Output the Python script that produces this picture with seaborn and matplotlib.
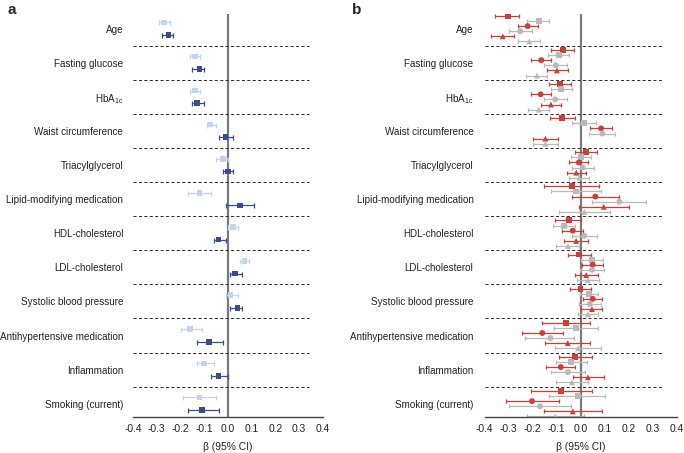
import numpy as np
import pandas as pd
import matplotlib
matplotlib.use("Agg")
import matplotlib.pyplot as plt
import seaborn as sns

# Data
traits = ["Age", "Fasting glucose", "$\\mathregular{HbA_{1c}}$", "Waist circumference",
          "Triacylglycerol", "Lipid-modifying medication", "HDL-cholesterol",
          "LDL-cholesterol", "Systolic blood pressure", "Antihypertensive medication",
          "Inflammation", "Smoking (current)"]

# panel a: light and dark series (estimate, lower, upper)
a_light_est = [-0.27, -0.14, -0.14, -0.075, -0.02, -0.12, 0.02, 0.07, 0.01, -0.16, -0.10, -0.12]
a_light_lo = [-0.29, -0.16, -0.16, -0.09, -0.05, -0.17, 0.00, 0.05, -0.01, -0.20, -0.13, -0.19]
a_light_hi = [-0.245, -0.12, -0.12, -0.05, 0.00, -0.07, 0.04, 0.09, 0.04, -0.11, -0.06, -0.05]
a_dark_est = [-0.25, -0.12, -0.13, -0.01, 0.00, 0.05, -0.04, 0.03, 0.04, -0.08, -0.04, -0.11]
a_dark_lo = [-0.28, -0.15, -0.15, -0.04, -0.02, -0.01, -0.06, 0.01, 0.01, -0.13, -0.07, -0.17]
a_dark_hi = [-0.23, -0.10, -0.10, 0.02, 0.02, 0.11, -0.01, 0.06, 0.06, -0.02, 0.00, -0.04]

# panel b: six series per trait
b_red_sq_est = [-0.304, -0.075, -0.088, -0.078, 0.022, -0.036, -0.050, -0.006, -0.001, -0.061, -0.025, -0.081]
b_red_sq_lo = [-0.356, -0.122, -0.133, -0.129, -0.022, -0.152, -0.106, -0.054, -0.044, -0.161, -0.092, -0.206]
b_red_sq_hi = [-0.256, -0.026, -0.040, -0.022, 0.068, 0.078, 0.001, 0.044, 0.042, 0.040, 0.046, 0.046]
b_grey_sq_est = [-0.175, -0.092, -0.081, 0.012, 0.003, -0.018, -0.068, 0.047, 0.035, -0.018, -0.039, -0.011]
b_grey_sq_lo = [-0.222, -0.136, -0.124, -0.036, -0.039, -0.122, -0.117, 0.000, -0.004, -0.111, -0.103, -0.131]
b_grey_sq_hi = [-0.131, -0.047, -0.036, 0.064, 0.044, 0.086, -0.022, 0.093, 0.072, 0.072, 0.028, 0.103]
b_red_ci_est = [-0.221, -0.164, -0.167, 0.085, -0.008, 0.061, -0.033, 0.050, 0.050, -0.160, -0.083, -0.203]
b_red_ci_lo = [-0.263, -0.206, -0.207, 0.039, -0.049, -0.036, -0.078, 0.006, 0.008, -0.246, -0.144, -0.313]
b_red_ci_hi = [-0.179, -0.124, -0.125, 0.130, 0.029, 0.158, 0.010, 0.094, 0.088, -0.072, -0.025, -0.092]
b_grey_ci_est = [-0.252, -0.104, -0.106, 0.090, 0.008, 0.161, 0.015, 0.047, 0.038, -0.126, -0.053, -0.170]
b_grey_ci_lo = [-0.300, -0.152, -0.153, 0.036, -0.035, 0.049, -0.036, -0.003, -0.006, -0.231, -0.122, -0.300]
b_grey_ci_hi = [-0.203, -0.056, -0.058, 0.144, 0.055, 0.273, 0.069, 0.098, 0.083, -0.026, 0.018, -0.039]
b_red_tr_est = [-0.325, -0.099, -0.124, -0.147, -0.018, 0.096, -0.019, 0.023, 0.047, -0.054, 0.030, -0.033]
b_red_tr_lo = [-0.372, -0.142, -0.165, -0.197, -0.058, -0.008, -0.069, -0.022, 0.003, -0.147, -0.032, -0.152]
b_red_tr_hi = [-0.279, -0.054, -0.081, -0.096, 0.024, 0.203, 0.030, 0.071, 0.090, 0.040, 0.098, 0.088]
b_grey_tr_est = [-0.214, -0.182, -0.175, -0.147, -0.006, 0.015, -0.053, 0.030, 0.030, -0.011, -0.036, -0.106]
b_grey_tr_lo = [-0.261, -0.227, -0.220, -0.197, -0.049, -0.092, -0.104, -0.015, -0.011, -0.106, -0.103, -0.222]
b_grey_tr_hi = [-0.168, -0.140, -0.131, -0.096, 0.036, 0.121, -0.006, 0.078, 0.072, 0.083, 0.029, 0.012]

xticks = [-0.4, -0.3, -0.2, -0.1, 0.0, 0.1, 0.2, 0.3, 0.4]

LIGHT = "#c6d4ea"
DARK = "#3d4c85"
RED = "#cc3d3d"
GREY = "#b9b9b9"
FS = 7.1

sns.set_style("white")
plt.rcParams["font.family"] = ["Liberation Sans", "DejaVu Sans"]
plt.rcParams["mathtext.fontset"] = "custom"
plt.rcParams["mathtext.rm"] = "Liberation Sans"

# Build long tables
n = len(traits)
pos = np.arange(n)
rows = []
for name, est, lo, hi, off in [("light", a_light_est, a_light_lo, a_light_hi, -0.185),
                               ("dark", a_dark_est, a_dark_lo, a_dark_hi, 0.185)]:
    for i in range(n):
        rows.append(dict(series=name, y=pos[i] + off, est=est[i], lo=lo[i], hi=hi[i]))
df_a = pd.DataFrame(rows)

rows = []
b_series = [("red", "sq", b_red_sq_est, b_red_sq_lo, b_red_sq_hi),
            ("grey", "sq", b_grey_sq_est, b_grey_sq_lo, b_grey_sq_hi),
            ("red", "ci", b_red_ci_est, b_red_ci_lo, b_red_ci_hi),
            ("grey", "ci", b_grey_ci_est, b_grey_ci_lo, b_grey_ci_hi),
            ("red", "tr", b_red_tr_est, b_red_tr_lo, b_red_tr_hi),
            ("grey", "tr", b_grey_tr_est, b_grey_tr_lo, b_grey_tr_hi)]
for k, (col, shp, est, lo, hi) in enumerate(b_series):
    off = (k - 2.5) * 0.15
    for i in range(n):
        rows.append(dict(cohort=col, model=shp, y=pos[i] + off, est=est[i], lo=lo[i], hi=hi[i]))
df_b = pd.DataFrame(rows)

fig = plt.figure(figsize=(6.84, 4.53), dpi=100)
ax_a = fig.add_axes([133 / 684, 36 / 453, 190 / 684, 403 / 453])
ax_b = fig.add_axes([484.7 / 684, 36 / 453, 192 / 684, 403 / 453])


def style_axis(ax, pad):
    ax.set_xlim(-0.4, 0.4)
    ax.set_ylim(11.39, -0.43)
    ax.axvline(0, color="#7a7a7a", lw=1.6, zorder=1)
    ax.hlines(np.arange(n - 1) + 0.5, -0.4, 0.34, colors="#333333", lw=0.75,
              linestyles=(0, (3, 2.2)), zorder=1)
    for s in ["left", "top", "right"]:
        ax.spines[s].set_visible(False)
    ax.spines["bottom"].set_color("#444444")
    ax.spines["bottom"].set_linewidth(1.0)
    ax.set_xticks(xticks)
    ax.set_xticklabels([f"{t:.1f}" for t in xticks], fontsize=FS + 0.3, color="#222222")
    ax.tick_params(axis="x", direction="in", length=4, width=1, color="#444444", pad=5)
    ax.set_yticks(pos)
    ax.set_yticklabels(traits, fontsize=FS, color="#222222")
    ax.tick_params(axis="y", length=0, pad=pad)
    ax.set_xlabel("β (95% CI)", fontsize=FS + 0.3, color="#222222", labelpad=6)
    ax.set_ylabel("")


# Panel a
for name, color in [("light", LIGHT), ("dark", DARK)]:
    d = df_a[df_a.series == name]
    ax_a.errorbar(d.est, d.y, xerr=[d.est - d.lo, d.hi - d.est], fmt="none",
                  ecolor=color, elinewidth=0.9, capsize=1.8, capthick=0.9, zorder=2)
sns.scatterplot(data=df_a, x="est", y="y", hue="series", palette={"light": LIGHT, "dark": DARK},
                marker="s", s=16, linewidth=0, legend=False, ax=ax_a, zorder=3)
style_axis(ax_a, 7)

# Panel b
for (col, shp), d in df_b.groupby(["cohort", "model"]):
    color = RED if col == "red" else GREY
    ax_b.errorbar(d.est, d.y, xerr=[d.est - d.lo, d.hi - d.est], fmt="none",
                  ecolor=color, elinewidth=0.9, capsize=1.6, capthick=0.9, zorder=2)
sns.scatterplot(data=df_b, x="est", y="y", hue="cohort", style="model",
                palette={"red": RED, "grey": GREY},
                markers={"sq": "s", "ci": "o", "tr": "^"}, s=18, linewidth=0,
                legend=False, ax=ax_b, zorder=3)
style_axis(ax_b, 8)

fig.text(7 / 684, 1 - 3 / 453, "a", fontsize=11, fontweight="bold", va="top", ha="left")
fig.text(352 / 684, 1 - 3 / 453, "b", fontsize=11, fontweight="bold", va="top", ha="left")

fig.savefig("out.png", dpi=100)
